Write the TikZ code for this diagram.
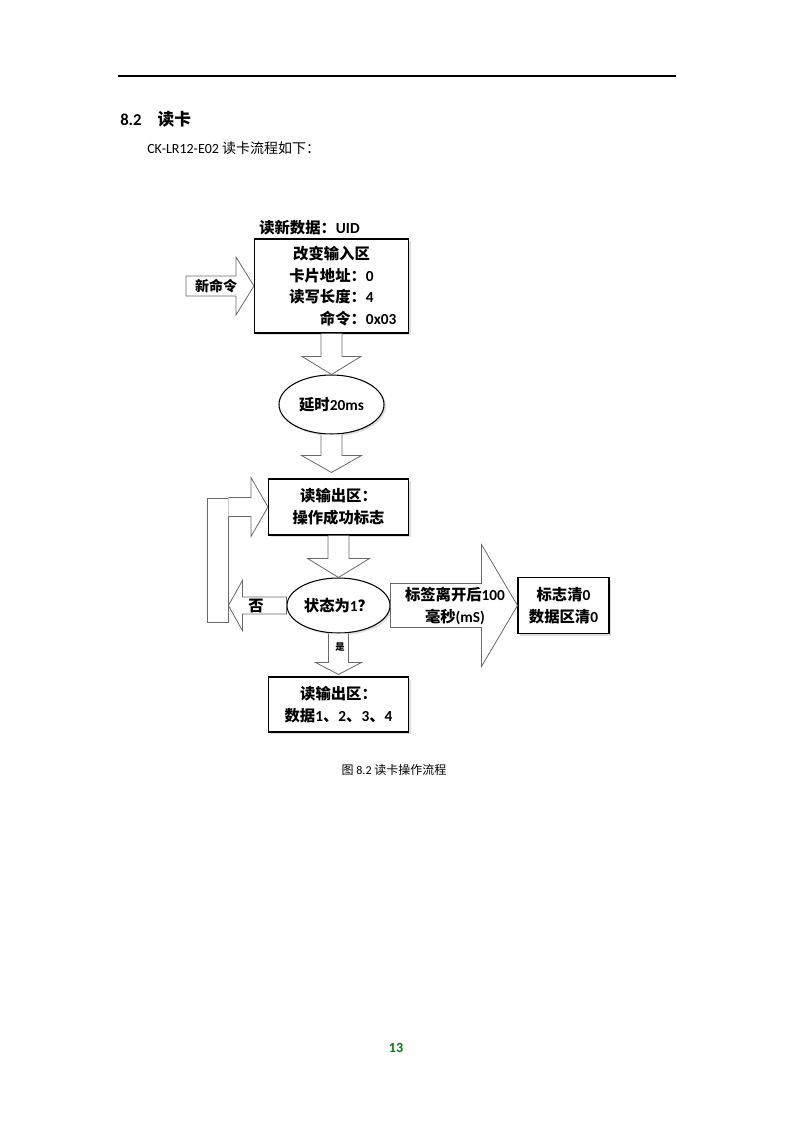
\documentclass[tikz,border=0pt]{standalone}
\usepackage{fontspec}
\setmainfont{Noto Sans CJK SC}
\newfontfamily\en{Carlito}[BoldFont={Carlito Bold}]
\usetikzlibrary{calc}
\usetikzlibrary{shapes.geometric}
\usetikzlibrary{shadows}
\definecolor{pagegreen}{RGB}{0,128,0}
\definecolor{arrowgray}{RGB}{105,105,105}

\begin{document}
\begin{tikzpicture}[x=0.75pt,y=-0.75pt,line join=miter]
	\tikzstyle{box}=[draw=black,line width=0.8pt,fill=white,inner sep=0pt,align=center,
		drop shadow={shadow xshift=1.5pt,shadow yshift=-1.5pt,opacity=0.25},
		font=\fontsize{11.5}{16.3}\selectfont\bfseries];
	\tikzstyle{oval}=[box,ellipse];
	\tikzstyle{blk}=[draw=arrowgray,line width=0.6pt,fill=white];
	\tikzstyle{txt}=[inner sep=0pt,align=center,font=\fontsize{11.5}{16.3}\selectfont\bfseries];
	\useasboundingbox (0,0) rectangle (793,1122);
	%% Page
	\draw[line width=0.8pt] (118,76) -- (676,76);
	\node[anchor=west,inner sep=0pt,font=\fontsize{12.5}{14}\selectfont\bfseries] (sec) at (120,119)
		{{\en 8.2}\hspace{12pt}读卡};
	\node[anchor=west,inner sep=0pt,font=\fontsize{10.5}{12}\selectfont] (intro) at (147,148)
		{{\en CK-LR12-E02} 读卡流程如下：};
	\node[inner sep=0pt,font=\fontsize{9}{11}\selectfont] (cap) at (394,770)
		{图 {\en 8.2} 读卡操作流程};
	\node[inner sep=0pt,text=pagegreen,font=\fontsize{10.5}{12}\selectfont\bfseries\en] (page) at (396,1048) {13};
	%% Boxes
	\node[txt,anchor=west] (uid) at (259,228) {读新数据：{\en UID}};
	\node[box,minimum width=115.5pt,minimum height=70.5pt] (input) at (331.5,286)
		{改变输入区\\卡片地址：{\en 0}\\读写长度：{\en 4}\\\hspace*{40pt}命令：{\en 0x03}};
	\node[oval,minimum width=78.75pt,minimum height=44.25pt] (delay) at (331.5,404.5) {延时{\en 20ms}};
	\node[box,minimum width=105pt,minimum height=42pt] (flag) at (338.5,507) {读输出区：\\操作成功标志};
	\node[oval,minimum width=77.25pt,minimum height=41.25pt] (check) at (338.5,605.5) {状态为{\en 1}？};
	\node[box,minimum width=105pt,minimum height=41.25pt] (data) at (338.5,704.5)
		{读输出区：\\数据{\en 1}、{\en 2}、{\en 3}、{\en 4}};
	\node[box,minimum width=68.25pt,minimum height=42pt] (clear) at (563.5,605.5) {标志清{\en 0}\\数据区清{\en 0}};
	\node[blk,inner sep=0pt,minimum width=15.75pt,minimum height=93pt] (loop) at (217.5,560) {};
	%% New command
	\coordinate (cmd) at (186,286);
	\draw[blk] ($(cmd)+(0,-10)$) -- ($(input.west)+(-18,-10)$) -- ++(0,-19)
		-- (input.west) -- ++(-18,29) -- ++(0,-19) -- ($(cmd)+(0,10)$) -- cycle;
	\node[txt,font=\fontsize{10.5}{12}\selectfont\bfseries] (cmdtxt) at (216,286) {新命令};
	%% Down arrows
	\draw[blk] ($(input.south)+(-10.5,0)$) -- ($(delay.north)+(-10.5,-18)$) -- ++(-19,0)
		-- (delay.north) -- ++(29.5,-18) -- ++(-19,0) -- ($(input.south)+(10.5,0)$);
	\coordinate (tipB) at ($(delay.south |- flag.north)+(0,-6)$);
	\draw[blk] ($(delay.south)+(-10.5,0)$) -- ($(tipB)+(-10.5,-17)$) -- ++(-19.5,0)
		-- (tipB) -- ++(30,-17) -- ++(-19.5,0) -- ($(delay.south)+(10.5,0)$);
	\draw[blk] ($(flag.south)+(-10.5,0)$) -- ($(check.north)+(-10.5,-19)$) -- ++(-20.5,0)
		-- (check.north) -- ++(31,-19) -- ++(-20.5,0) -- ($(flag.south)+(10.5,0)$);
	\coordinate (tipD) at ($(data.north)+(0,-2)$);
	\draw[blk] ($(check.south)+(-10,0)$) -- ($(tipD)+(-10,-12)$) -- ++(-13,0)
		-- (tipD) -- ++(23,-12) -- ++(-13,0) -- ($(check.south)+(10,0)$);
	\node[txt,font=\fontsize{7}{8}\selectfont\bfseries] (yes) at (340,647) {是};
	%% Loop back
	\coordinate (tipE) at (loop.east |- check.west);
	\draw[blk] ($(check.west)+(0,-8.5)$) -- ($(tipE)+(14,-8.5)$) -- ++(0,-16.5)
		-- (tipE) -- ++(14,25) -- ++(0,-16.5) -- ($(check.west)+(0,8.5)$) -- cycle;
	\node[txt] (no) at (256,606) {否};
	\coordinate (tailF) at (loop.east |- flag.west);
	\draw[blk] ($(tailF)+(0,-9.5)$) -- ($(flag.west)+(-17,-9.5)$) -- ++(0,-20)
		-- (flag.west) -- ++(-17,29.5) -- ++(0,-20) -- ($(tailF)+(0,9.5)$);
	%% Tag leaves
	\draw[blk] ($(check.east)+(0,-22)$) -- ($(clear.west)+(-36,-22)$) -- ++(0,-39)
		-- (clear.west) -- ++(-36,61) -- ++(0,-39) -- ($(check.east)+(0,22)$) -- cycle;
	\node[txt] (leave) at (455,606) {标签离开后{\en 100}\\毫秒{\en (mS)}};
\end{tikzpicture}
\end{document}
